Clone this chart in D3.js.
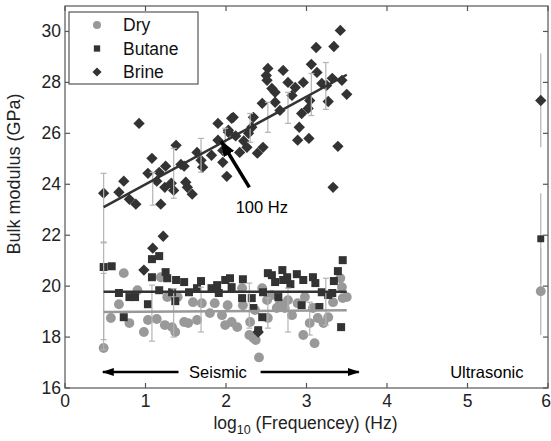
<!DOCTYPE html>
<html>
<head>
<meta charset="utf-8">
<script src="https://cdn.jsdelivr.net/npm/d3@7"></script>
<style>
  body { margin: 0; background: #fff; }
  svg { display: block; }
  text { font-family: "Liberation Sans", Arial, sans-serif; }
</style>
</head>
<body>
<svg id="mainsvg" width="551" height="441"></svg>
<script>
// log10(f), modulus (GPa)
const brinePoints = [
  [0.48,23.65],[0.92,26.39],[0.73,24.12],[0.67,23.69],[0.80,23.41],[0.88,23.22],[1.08,25.02],[1.03,24.43],
  [1.14,24.12],[1.17,24.47],[1.25,24.71],[1.24,23.88],[1.32,24.04],[1.35,23.76],[1.19,23.22],[1.38,25.53],
  [1.44,24.78],[1.48,24.71],[1.50,24.08],[1.52,23.88],[1.58,23.61],[1.64,25.25],[1.69,24.94],[1.71,24.67],
  [1.82,25.14],[1.90,26.39],[1.90,25.73],[1.96,25.33],[1.96,24.86],[2.01,24.31],[2.03,26.04],[2.07,26.59],
  [3.42,30.04],[3.12,29.37],[3.34,29.41],[3.06,28.71],[3.13,28.39],[2.71,28.47],[2.52,28.55],[2.50,28.27],
  [2.51,28.08],[2.57,27.76],[2.61,27.61],[2.77,28.0],[2.86,27.80],[2.96,28.0],[2.82,27.49],[2.45,27.18],
  [2.61,27.22],[2.67,26.90],[2.94,26.78],[3.02,26.98],[3.04,27.29],[3.19,27.96],[3.25,27.88],[3.32,28.16],
  [3.44,28.08],[3.50,27.53],[3.27,27.25],[2.91,26.24],[2.89,25.73],[3.03,25.80],[3.39,25.49],[2.09,26.63],
  [2.34,26.63],[2.32,26.24],[2.46,25.45],[2.39,25.22],[2.26,25.45],[2.17,25.25],[2.03,26.12],[3.33,23.88],
  [2.12,25.9],[2.22,25.7],[2.28,26.0],[1.22,21.96],[1.09,21.49],[0.98,20.63],[2.40,18.2]
];
const butanePoints = [
  [0.48,20.75],[0.58,20.78],[0.67,19.73],[0.80,19.57],[0.87,19.57],[0.73,18.78],[1.03,19.29],[1.08,21.06],
  [1.17,21.18],[1.08,20.35],[1.25,20.55],[1.27,20.31],[1.17,19.84],[1.38,20.24],[1.48,20.16],[1.33,19.76],
  [1.37,19.41],[1.54,19.76],[1.69,20.20],[1.64,19.92],[1.82,19.92],[1.89,20.04],[1.91,19.73],[1.99,20.24],
  [2.05,20.31],[2.07,19.96],[2.21,20.27],[2.20,19.53],[2.32,19.53],[2.34,19.14],[2.45,18.78],[2.40,18.27],
  [2.52,20.51],[2.57,20.43],[2.70,20.63],[2.61,20.16],[2.71,20.24],[2.76,20.35],[2.80,20.08],[2.65,19.57],
  [2.88,20.47],[2.96,20.24],[3.08,20.35],[3.11,20.12],[2.94,19.25],[3.19,19.76],[3.27,19.65],[3.16,19.18],
  [3.34,20.20],[3.39,20.59],[3.45,21.02],[3.43,18.39],[3.32,19.73],[2.46,19.76]
];
const dryPoints = [
  [0.48,17.57],[0.57,18.75],[0.73,20.51],[0.67,19.29],[0.80,18.55],[0.90,19.84],[0.98,18.20],[1.03,18.67],
  [1.14,18.71],[1.19,20.35],[1.27,19.57],[1.24,18.47],[1.33,18.39],[1.37,18.20],[1.40,19.57],[1.48,18.59],
  [1.59,19.37],[1.53,18.55],[1.64,18.67],[1.70,19.33],[1.80,18.94],[1.86,19.33],[1.99,18.47],[2.07,18.59],
  [2.14,18.39],[2.02,19.25],[2.20,19.92],[2.21,19.25],[2.30,18.59],[2.29,18.08],[2.34,17.96],[2.37,17.88],
  [2.36,19.06],[2.45,19.92],[2.51,19.45],[2.52,18.75],[2.57,19.65],[2.63,19.14],[2.67,19.33],[2.73,19.14],
  [2.77,19.45],[2.82,18.86],[2.89,19.33],[2.96,18.08],[3.04,18.55],[3.10,17.76],[3.14,18.75],[3.21,18.55],
  [3.27,18.78],[3.33,19.37],[3.42,20.31],[3.44,19.96],[3.45,19.53],[3.50,19.57],[3.08,19.14],[2.98,19.57],
  [1.95,18.86],[2.41,17.2]
];

// fitted lines: [x0, y0, x1, y1]
const brineFit = [0.48, 23.1, 3.5, 28.3];
const butaneFit = [0.48, 19.78, 3.5, 19.78];
const dryFit = [0.48, 18.98, 3.5, 19.05];

// seismic error bars: [x, low, high]
const seismicBars = [
  [0.48,21.73,24.43],[1.09,23.18,24.47],[1.35,23.45,25.41],[1.69,24.47,25.8],[1.99,25.2,26.2],
  [2.30,25.65,26.78],[2.52,26.04,27.22],[2.77,26.39,27.61],[3.06,26.7,28.35],[3.24,26.94,28.78],
  [0.48,17.9,21.7],[0.48,17.5,20.5],[1.08,17.84,20.04],[1.35,18.0,19.9],[1.69,18.2,19.96],[2.29,18.35,20.12],
  [2.52,18.35,19.53],[2.77,18.2,19.92],[3.04,18.08,19.37],[3.24,18.47,20.31]
];

// ultrasonic: [x, value, low, high]
const ultraBrine = [5.91, 27.29, 25.45, 29.14];
const ultraButane = [5.91, 21.86, 20.1, 23.65];
const ultraDry = [5.91, 19.8, 18.08, 21.5];

const xTicks = [0, 1, 2, 3, 4, 5, 6];
const yTicks = [16, 18, 20, 22, 24, 26, 28, 30];
const legendLabels = ['Dry', 'Butane', 'Brine'];

const dark = '#333';
const light = '#999';
const barColor = '#b4b4b4';

const svg = d3.select('#mainsvg');
const margin = { top: 6, right: 3, bottom: 53, left: 65 };
const width = +svg.attr('width');
const height = +svg.attr('height');
const innerWidth = width - margin.left - margin.right;
const innerHeight = height - margin.top - margin.bottom;

const xScale = d3.scaleLinear().domain([0, 6]).range([0, innerWidth]);
const yScale = d3.scaleLinear().domain([16, 31]).range([innerHeight, 0]);

const defs = svg.append('defs');
defs.append('marker')
  .attr('id', 'head').attr('viewBox', '0 0 12 8')
  .attr('refX', 11).attr('refY', 4)
  .attr('markerWidth', 12).attr('markerHeight', 8)
  .attr('markerUnits', 'userSpaceOnUse').attr('orient', 'auto')
  .append('path').attr('d', 'M0,0L12,4L0,8Z').attr('fill', '#000');
defs.append('marker')
  .attr('id', 'bighead').attr('viewBox', '0 0 16 12')
  .attr('refX', 15).attr('refY', 6)
  .attr('markerWidth', 16).attr('markerHeight', 12)
  .attr('markerUnits', 'userSpaceOnUse').attr('orient', 'auto')
  .append('path').attr('d', 'M0,0L16,6L0,12Z').attr('fill', '#000');

const g = svg.append('g')
  .attr('id', 'maingroup')
  .attr('transform', `translate(${margin.left}, ${margin.top})`);

const circle = d3.symbol().type(d3.symbolCircle).size(76);
const square = d3.symbol().type(d3.symbolSquare).size(64);
const diamond = d3.symbol().type(d3.symbolSquare).size(64);

const pos = d => `translate(${xScale(d[0])}, ${yScale(d[1])})`;

// points
g.append('g').selectAll('path').data(dryPoints).join('path')
  .attr('d', circle).attr('transform', pos).attr('fill', light);
g.append('g').selectAll('path').data(butanePoints).join('path')
  .attr('d', square).attr('transform', pos).attr('fill', dark);
g.append('g').selectAll('path').data(brinePoints).join('path')
  .attr('d', diamond).attr('transform', d => pos(d) + ' rotate(45)').attr('fill', dark);

// error bars
const bars = g.append('g').attr('stroke', barColor).attr('stroke-width', 1.2);
seismicBars.forEach(b => {
  const x = xScale(b[0]);
  bars.append('line').attr('x1', x).attr('x2', x).attr('y1', yScale(b[1])).attr('y2', yScale(b[2]));
  [b[1], b[2]].forEach(v => {
    bars.append('line').attr('x1', x - 3).attr('x2', x + 3).attr('y1', yScale(v)).attr('y2', yScale(v));
  });
});
[ultraBrine, ultraButane, ultraDry].forEach(b => {
  const x = xScale(b[0]);
  bars.append('line').attr('x1', x).attr('x2', x).attr('y1', yScale(b[2])).attr('y2', yScale(b[3]));
});

// fit lines
[[brineFit, dark], [butaneFit, dark], [dryFit, light]].forEach(([f, c]) => {
  g.append('line')
    .attr('x1', xScale(f[0])).attr('y1', yScale(f[1]))
    .attr('x2', xScale(f[2])).attr('y2', yScale(f[3]))
    .attr('stroke', c).attr('stroke-width', 2.5);
});

// ultrasonic points
g.append('path').attr('d', circle).attr('transform', pos(ultraDry)).attr('fill', light);
g.append('path').attr('d', d3.symbol().type(d3.symbolSquare).size(48)).attr('transform', pos(ultraButane)).attr('fill', dark);
g.append('path').attr('d', diamond).attr('transform', pos(ultraBrine) + ' rotate(45)').attr('fill', dark);

// annotations
g.append('line')
  .attr('x1', xScale(1.41)).attr('x2', xScale(0.47))
  .attr('y1', yScale(16.63)).attr('y2', yScale(16.63))
  .attr('stroke', '#000').attr('stroke-width', 2.5).attr('marker-end', 'url(#head)');
g.append('line')
  .attr('x1', xScale(2.43)).attr('x2', xScale(3.65))
  .attr('y1', yScale(16.63)).attr('y2', yScale(16.63))
  .attr('stroke', '#000').attr('stroke-width', 2.5).attr('marker-end', 'url(#head)');
g.append('text').text('Seismic')
  .attr('x', xScale(1.9)).attr('y', yScale(16.63) + 6)
  .attr('text-anchor', 'middle').attr('font-size', 16.5);
g.append('text').text('Ultrasonic')
  .attr('x', xScale(5.24)).attr('y', yScale(16.63) + 6)
  .attr('text-anchor', 'middle').attr('font-size', 16.5);
g.append('line')
  .attr('x1', xScale(2.29)).attr('y1', yScale(23.88))
  .attr('x2', xScale(1.94)).attr('y2', yScale(25.69))
  .attr('stroke', '#000').attr('stroke-width', 3.5).attr('marker-end', 'url(#bighead)');
g.append('text').text('100 Hz')
  .attr('x', xScale(2.12)).attr('y', yScale(22.86))
  .attr('font-size', 16.5);

// frame and inward ticks
const axisColor = '#555';
g.append('rect').attr('width', innerWidth).attr('height', innerHeight)
  .attr('fill', 'none').attr('stroke', axisColor).attr('stroke-width', 1.2);
const tickG = g.append('g').attr('stroke', axisColor).attr('stroke-width', 1.2);
xTicks.forEach(t => {
  const x = xScale(t);
  tickG.append('line').attr('x1', x).attr('x2', x).attr('y1', innerHeight).attr('y2', innerHeight - 5);
  tickG.append('line').attr('x1', x).attr('x2', x).attr('y1', 0).attr('y2', 5);
});
yTicks.forEach(t => {
  const y = yScale(t);
  tickG.append('line').attr('x1', 0).attr('x2', 5).attr('y1', y).attr('y2', y);
  tickG.append('line').attr('x1', innerWidth).attr('x2', innerWidth - 5).attr('y1', y).attr('y2', y);
});
g.append('g').selectAll('text').data(xTicks).join('text')
  .text(d => d)
  .attr('x', d => xScale(d) - (d === 6 ? 2 : 0)).attr('y', innerHeight + 19)
  .attr('text-anchor', 'middle').attr('font-size', 17.5).attr('fill', '#222');
g.append('g').selectAll('text').data(yTicks).join('text')
  .text(d => d)
  .attr('x', -4).attr('y', d => yScale(d) + 6)
  .attr('text-anchor', 'end').attr('font-size', 17.5).attr('fill', '#222');

// axis titles
const xLabel = g.append('text')
  .attr('x', innerWidth / 2 - 1).attr('y', innerHeight + 41)
  .attr('text-anchor', 'middle').attr('font-size', 17.5).attr('fill', '#222');
xLabel.append('tspan').text('log');
xLabel.append('tspan').text('10').attr('font-size', 12.5).attr('dy', 5);
xLabel.append('tspan').text(' (Frequencey) (Hz)').attr('dy', -5);
g.append('text').text('Bulk modulus (GPa)')
  .attr('transform', `translate(${-45}, ${yScale(24.4)}) rotate(-90)`)
  .attr('text-anchor', 'middle').attr('font-size', 18).attr('fill', '#222');

// legend
const legend = g.append('g').attr('transform', 'translate(4, 6)');
legend.append('rect').attr('width', 129).attr('height', 72)
  .attr('fill', '#fff').attr('stroke', axisColor).attr('stroke-width', 1.2);
const legendSymbols = [
  { d: d3.symbol().type(d3.symbolCircle).size(50)(), fill: light, rot: 0 },
  { d: d3.symbol().type(d3.symbolSquare).size(40)(), fill: dark, rot: 0 },
  { d: d3.symbol().type(d3.symbolSquare).size(42)(), fill: dark, rot: 45 }
];
legendLabels.forEach((name, i) => {
  const y = 13 + i * 23.5;
  legend.append('path').attr('d', legendSymbols[i].d)
    .attr('transform', `translate(28, ${y}) rotate(${legendSymbols[i].rot})`)
    .attr('fill', legendSymbols[i].fill);
  legend.append('text').text(name)
    .attr('x', 54).attr('y', y + 6).attr('font-size', 17.5).attr('fill', '#111');
});
</script>
</body>
</html>
